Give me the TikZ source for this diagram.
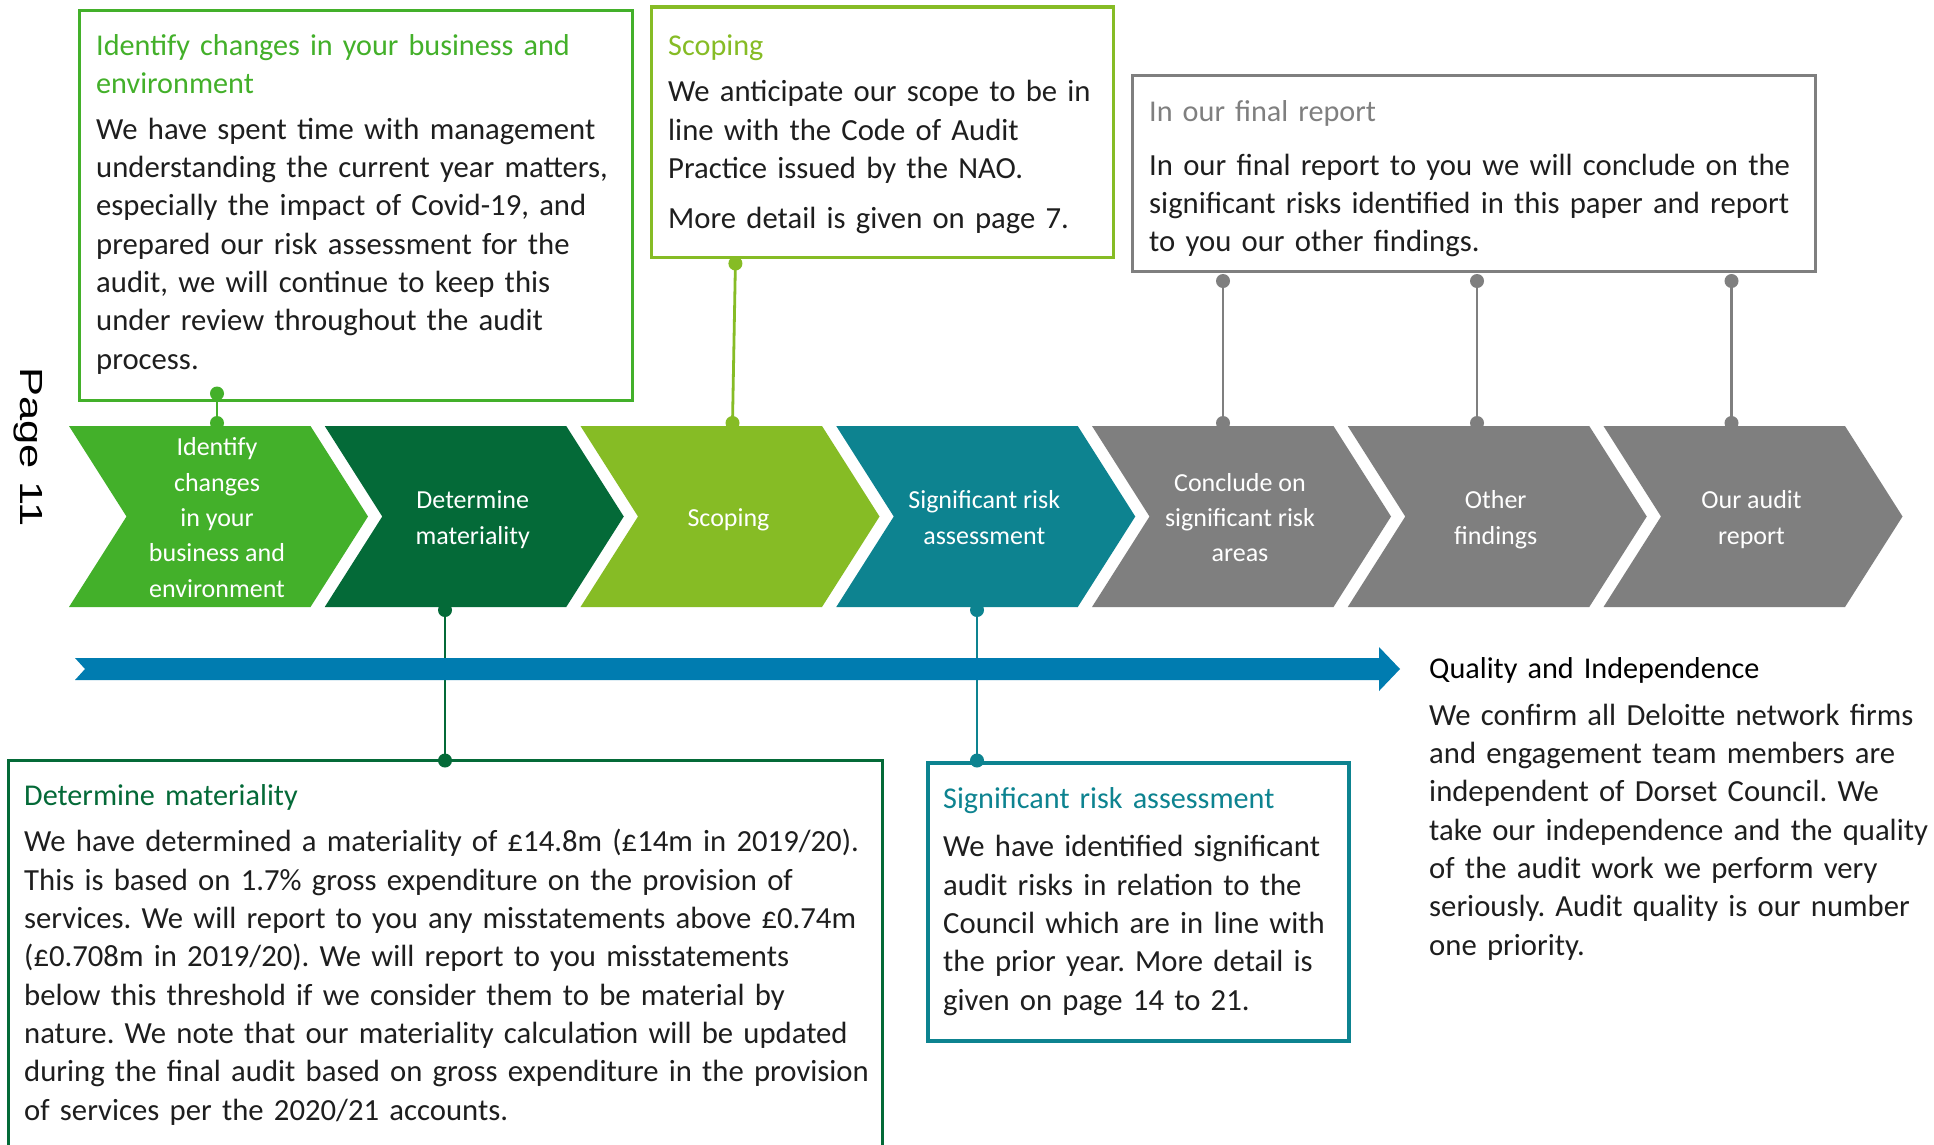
\documentclass[tikz,border=0pt]{standalone}
\usepackage{fontspec}
\setmainfont{Carlito}
\newfontfamily\pagefont{Liberation Sans}
\definecolor{cgreen}{HTML}{43B02A}
\definecolor{cdark}{HTML}{046A38}
\definecolor{clime}{HTML}{86BC25}
\definecolor{cteal}{HTML}{0D8390}
\definecolor{cgray}{HTML}{7F7F7F}
\definecolor{cblue}{HTML}{007CB0}
\definecolor{ctext}{HTML}{1E1E1E}
\frenchspacing
\begin{document}
\begin{tikzpicture}[x=1pt,y=-1pt,
  tbox/.style={draw, line width=3.2pt, inner sep=0pt, anchor=north west, fill=white},
  ttl/.style={anchor=base west, inner sep=0pt, text width=800pt, align=left, font=\fontsize{30.2}{38}\selectfont},
  bdy/.style={anchor=base west, inner sep=0pt, text width=900pt, align=left, text=ctext, font=\fontsize{30.7}{38.35}\selectfont},
  chev/.style={inner sep=0pt, align=center, text=white, font=\fontsize{26}{35.3}\selectfont},
  conn/.style={line width=2.8pt},
  dotr/.style={radius=7}
]
\useasboundingbox (0,0) rectangle (1934,1144);
\clip (0,0) rectangle (1934,1144);
\fill[white] (0,0) rectangle (1934,1144);

% page stamp
\node[anchor=base, inner sep=0pt, rotate=-90, font=\pagefont\fontsize{32}{38}\selectfont] (pg) at (20,447) {\scalebox{1.36}[1]{Page 11}};

% boxes
\node[tbox, draw=cgreen, minimum width=552.5pt, minimum height=390.5pt] (b1) at (78,8.5) {};
\node[tbox, draw=clime, line width=3.5pt, minimum width=462pt, minimum height=250.7pt] (bs) at (649.5,5) {};
\node[tbox, draw=cgray, line width=3pt, minimum width=683pt, minimum height=196pt] (bf) at (1131,74) {};
\node[tbox, draw=cdark, line width=3pt, minimum width=874pt, minimum height=420pt] (bm) at (7,758.5) {};
\node[tbox, draw=cteal, line width=3.5pt, minimum width=420.6pt, minimum height=278pt] (bq) at (926.4,761) {};

% texts in boxes
\node[ttl, text=cgreen] (t1) at (96,55) {Identify changes in your business and\\environment};
\node[bdy] (p1) at (96,139) {We have spent time with management\\understanding the current year matters,\\especially the impact of Covid-19, and\\prepared our risk assessment for the\\audit, we will continue to keep this\\under review throughout the audit\\process.};

\node[ttl, text=clime] (ts) at (668,55) {Scoping};
\node[bdy] (ps) at (668,101.7) {We anticipate our scope to be in\\line with the Code of Audit\\Practice issued by the NAO.};
\node[bdy] (ps2) at (668,228.3) {More detail is given on page 7.};

\node[ttl, text=cgray] (tf) at (1149,121.7) {In our final report};
\node[bdy] (pf) at (1149,175) {In our final report to you we will conclude on the\\significant risks identified in this paper and report\\to you our other findings.};

\node[ttl, text=cdark] (tm) at (24,805) {Determine materiality};
\node[bdy] (pm) at (24,851.7) {We have determined a materiality of £14.8m (£14m in 2019/20).\\This is based on 1.7\% gross expenditure on the provision of\\services. We will report to you any misstatements above £0.74m\\(£0.708m in 2019/20). We will report to you misstatements\\below this threshold if we consider them to be material by\\nature. We note that our materiality calculation will be updated\\during the final audit based on gross expenditure in the provision\\of services per the 2020/21 accounts.};

\node[ttl, text=cteal] (tq) at (943,808.3) {Significant risk assessment};
\node[bdy] (pq) at (943,856.7) {We have identified significant\\audit risks in relation to the\\Council which are in line with\\the prior year. More detail is\\given on page 14 to 21.};

\node[ttl, text=black] (ti) at (1429,678.3) {Quality and Independence};
\node[bdy] (pi) at (1429,725) {We confirm all Deloitte network firms\\and engagement team members are\\independent of Dorset Council. We\\take our independence and the quality\\of the audit work we perform very\\seriously. Audit quality is our number\\one priority.};

% connector end points
\coordinate (k1a) at (217,393.5);  \coordinate (k1b) at (217,423);
\coordinate (ksa) at (735.4,263.5); \coordinate (ksb) at (732.5,423);
\coordinate (kma) at (445,610);    \coordinate (kmb) at (445,760.5);
\coordinate (kqa) at (977,610);    \coordinate (kqb) at (977,760.5);
\coordinate (k5a) at (1223,281);   \coordinate (k5b) at (1223,423);
\coordinate (k6a) at (1477,281);   \coordinate (k6b) at (1477,423);
\coordinate (k7a) at (1731.5,281); \coordinate (k7b) at (1731.5,423);

\draw[conn, cgreen] (k1a) -- (k1b);
\fill[cgreen] (k1a) circle[dotr]; \fill[cgreen] (k1b) circle[dotr];
\draw[conn, clime] (ksa) -- (ksb);
\fill[clime] (ksa) circle[dotr]; \fill[clime] (ksb) circle[dotr];
\draw[conn, cdark] (kma) -- (kmb);
\fill[cdark] (kma) circle[dotr]; \fill[cdark] (kmb) circle[dotr];
\draw[conn, cteal] (kqa) -- (kqb);
\fill[cteal] (kqa) circle[dotr]; \fill[cteal] (kqb) circle[dotr];
\foreach \n in {5,6,7} {
  \draw[conn, cgray] (k\n a) -- (k\n b);
  \fill[cgray] (k\n a) circle[dotr]; \fill[cgray] (k\n b) circle[dotr];
}

% chevrons
\foreach \k/\c in {0/cgreen,1/cdark,2/clime,3/cteal,4/cgray,5/cgray,6/cgray} {
  \pgfmathsetmacro\L{69+255.75*\k}
  \fill[\c] (\L,426) -- ++(241.5,0) -- ++(57.5,90.5) -- ++(-57.5,90.5) -- ++(-241.5,0) -- ++(57.5,-90.5) -- cycle;
}
\node[chev] (c1) at (217,519.4) {\strut Identify\\\strut changes\\\strut in your\\\strut business and\\\strut environment};
\node[chev] (c2) at (472.75,519.4) {\strut Determine\\\strut materiality};
\node[chev] (c3) at (728.5,519.4) {\strut Scoping};
\node[chev] (c4) at (984.25,519.4) {\strut Significant risk\\\strut assessment};
\node[chev] (c5) at (1240,519.4) {\strut Conclude on\\\strut significant risk\\\strut areas};
\node[chev] (c6) at (1495.75,519.4) {\strut Other\\\strut findings};
\node[chev] (c7) at (1751.5,519.4) {\strut Our audit\\\strut report};

% blue timeline arrow
\fill[cblue] (75,658) -- (1379,658) -- (1379,647) -- (1400,669) -- (1379,691) -- (1379,680) -- (75,680) -- (85,669) -- cycle;
\end{tikzpicture}
\end{document}
